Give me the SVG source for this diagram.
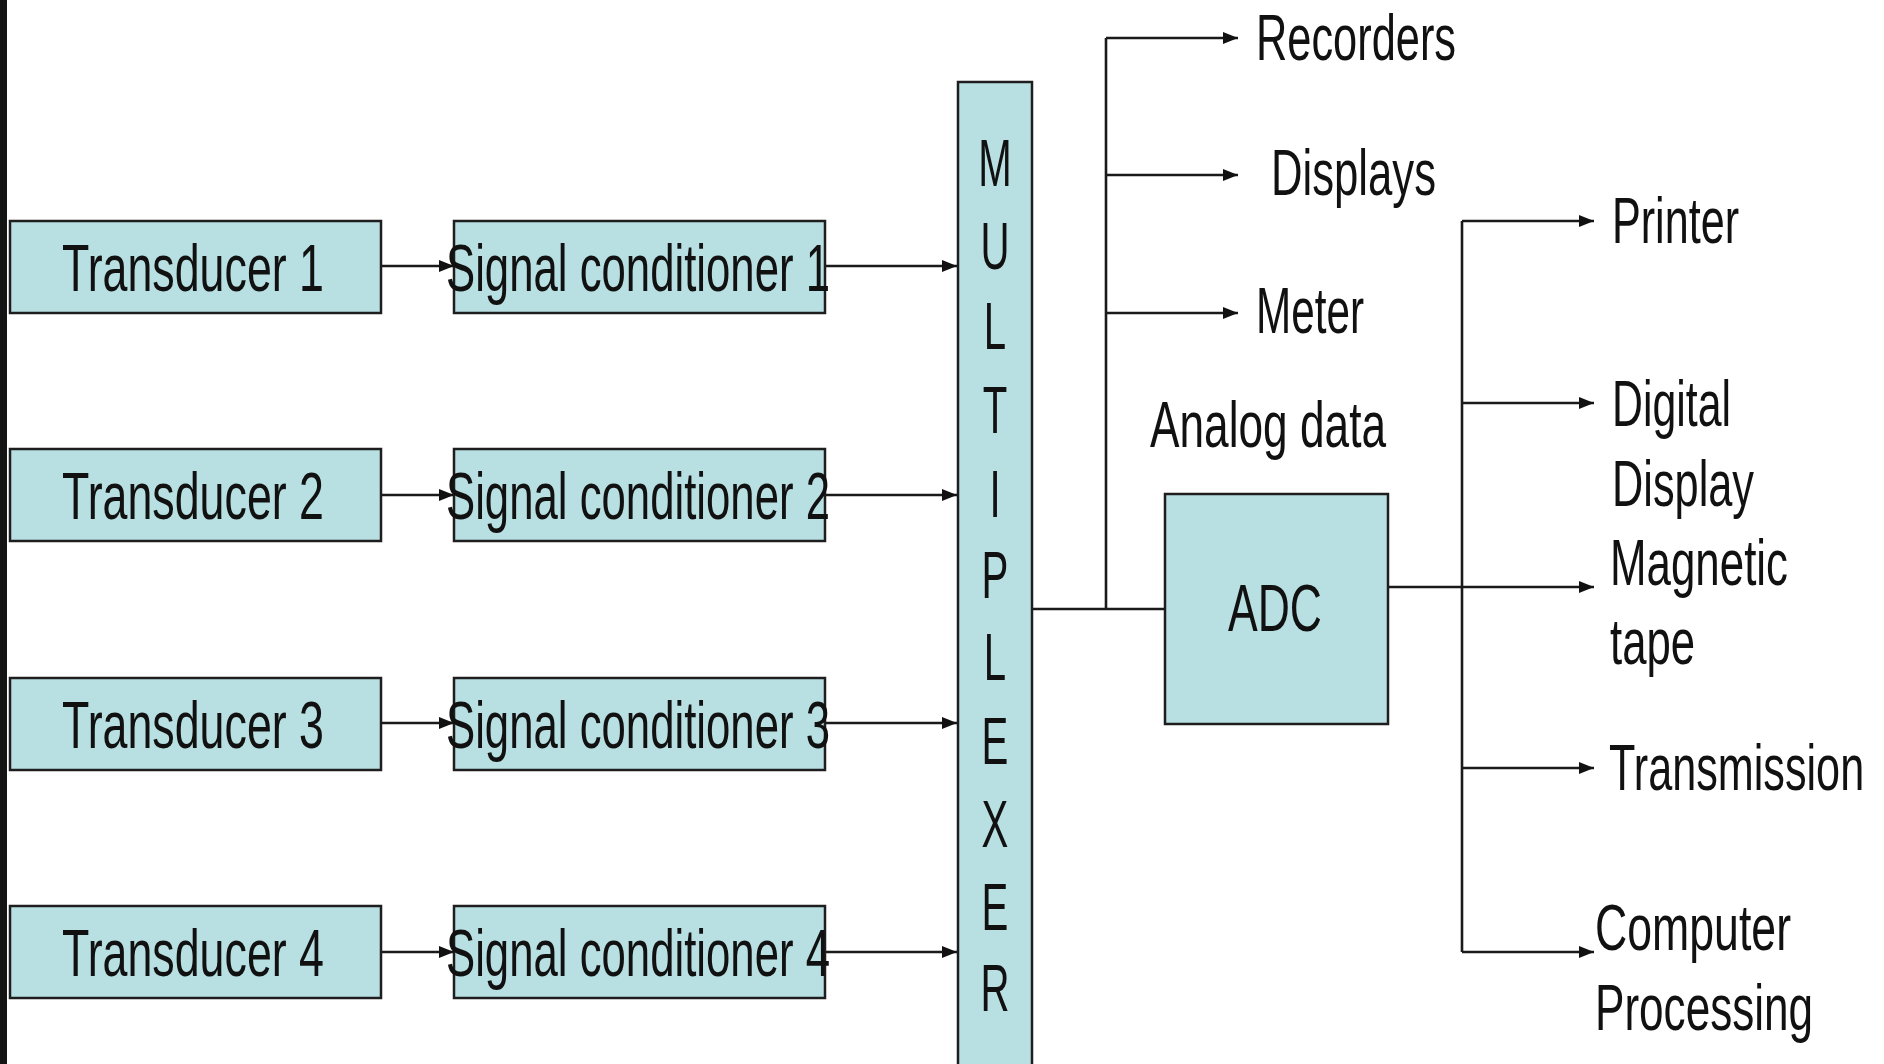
<svg xmlns="http://www.w3.org/2000/svg" width="1884" height="1064" viewBox="0 0 1884 1064">
<style>
  .box { fill: #b8dfe2; stroke: #1e1e1e; stroke-width: 2.5; }
  .t { font-family: "Liberation Sans", Arial, sans-serif; font-size: 67px; fill: #111; }
  .lbl { font-family: "Liberation Sans", Arial, sans-serif; font-size: 64px; fill: #111; }
  .mx { font-family: "Liberation Sans", Arial, sans-serif; font-size: 67px; fill: #111; text-anchor: middle; }
  .ln { fill: none; stroke: #1a1a1a; stroke-width: 2.6; }
  .ar { fill: none; stroke: #1a1a1a; stroke-width: 2.6; marker-end: url(#ah); }
</style>
<defs>
  <marker id="ah" markerUnits="userSpaceOnUse" markerWidth="16" markerHeight="14" refX="15" refY="7" orient="auto">
    <path d="M0,1 L15,7 L0,13 z" fill="#111"/>
  </marker>
</defs>
<rect x="0" y="0" width="1884" height="1064" fill="#ffffff"/>
<rect x="0" y="0" width="7" height="1064" fill="#141414"/>

<g id="connectors">
  <line class="ar" x1="381" y1="266" x2="454" y2="266"/>
  <line class="ar" x1="381" y1="495" x2="454" y2="495"/>
  <line class="ar" x1="381" y1="723" x2="454" y2="723"/>
  <line class="ar" x1="381" y1="952" x2="454" y2="952"/>
  <line class="ar" x1="825" y1="266" x2="957" y2="266"/>
  <line class="ar" x1="825" y1="495" x2="957" y2="495"/>
  <line class="ar" x1="825" y1="723" x2="957" y2="723"/>
  <line class="ar" x1="825" y1="952" x2="957" y2="952"/>
  <line class="ln" x1="1032" y1="609" x2="1165" y2="609"/>
  <line class="ln" x1="1106" y1="38" x2="1106" y2="609"/>
  <line class="ar" x1="1106" y1="38" x2="1238" y2="38"/>
  <line class="ar" x1="1106" y1="175" x2="1238" y2="175"/>
  <line class="ar" x1="1106" y1="313" x2="1238" y2="313"/>
  <line class="ln" x1="1462" y1="221" x2="1462" y2="952"/>
  <line class="ar" x1="1462" y1="221" x2="1594" y2="221"/>
  <line class="ar" x1="1462" y1="403" x2="1594" y2="403"/>
  <line class="ar" x1="1388" y1="587" x2="1594" y2="587"/>
  <line class="ar" x1="1462" y1="768" x2="1594" y2="768"/>
  <line class="ar" x1="1462" y1="952" x2="1594" y2="952"/>
</g>

<g id="transducer1"><rect class="box" x="10" y="221" width="371" height="92"/><text class="t" x="62" y="291" textLength="262" lengthAdjust="spacingAndGlyphs">Transducer 1</text></g>
<g id="transducer2"><rect class="box" x="10" y="449" width="371" height="92"/><text class="t" x="62" y="519" textLength="262" lengthAdjust="spacingAndGlyphs">Transducer 2</text></g>
<g id="transducer3"><rect class="box" x="10" y="678" width="371" height="92"/><text class="t" x="62" y="748" textLength="262" lengthAdjust="spacingAndGlyphs">Transducer 3</text></g>
<g id="transducer4"><rect class="box" x="10" y="906" width="371" height="92"/><text class="t" x="62" y="976" textLength="262" lengthAdjust="spacingAndGlyphs">Transducer 4</text></g>

<g id="conditioner1"><rect class="box" x="454" y="221" width="371" height="92"/><text class="t" x="446" y="291" textLength="384" lengthAdjust="spacingAndGlyphs">Signal conditioner 1</text></g>
<g id="conditioner2"><rect class="box" x="454" y="449" width="371" height="92"/><text class="t" x="446" y="519" textLength="384" lengthAdjust="spacingAndGlyphs">Signal conditioner 2</text></g>
<g id="conditioner3"><rect class="box" x="454" y="678" width="371" height="92"/><text class="t" x="446" y="748" textLength="384" lengthAdjust="spacingAndGlyphs">Signal conditioner 3</text></g>
<g id="conditioner4"><rect class="box" x="454" y="906" width="371" height="92"/><text class="t" x="446" y="976" textLength="384" lengthAdjust="spacingAndGlyphs">Signal conditioner 4</text></g>

<g id="multiplexer">
  <rect class="box" x="958" y="82" width="74" height="1000"/>
  <text class="mx" transform="translate(995,0) scale(0.6,1)"><tspan x="0" y="186">M</tspan><tspan x="0" y="269">U</tspan><tspan x="0" y="349">L</tspan><tspan x="0" y="433">T</tspan><tspan x="0" y="517">I</tspan><tspan x="0" y="598">P</tspan><tspan x="0" y="680">L</tspan><tspan x="0" y="764">E</tspan><tspan x="0" y="847">X</tspan><tspan x="0" y="930">E</tspan><tspan x="0" y="1011">R</tspan></text>
</g>

<g id="adc"><rect class="box" x="1165" y="494" width="223" height="230"/><text class="t" x="1228" y="631" textLength="94" lengthAdjust="spacingAndGlyphs">ADC</text></g>

<g id="recorders"><text class="lbl" x="1256" y="60" textLength="200" lengthAdjust="spacingAndGlyphs">Recorders</text></g>
<g id="displays"><text class="lbl" x="1271" y="195" textLength="165" lengthAdjust="spacingAndGlyphs">Displays</text></g>
<g id="meter"><text class="lbl" x="1256" y="333" textLength="108" lengthAdjust="spacingAndGlyphs">Meter</text></g>
<g id="analog-data"><text class="lbl" x="1150" y="447" textLength="236" lengthAdjust="spacingAndGlyphs">Analog data</text></g>

<g id="printer"><text class="lbl" x="1612" y="243" textLength="127" lengthAdjust="spacingAndGlyphs">Printer</text></g>
<g id="digital-display"><text class="lbl" x="1612" y="426" textLength="119" lengthAdjust="spacingAndGlyphs">Digital</text><text class="lbl" x="1612" y="506" textLength="142" lengthAdjust="spacingAndGlyphs">Display</text></g>
<g id="magnetic-tape"><text class="lbl" x="1610" y="585" textLength="178" lengthAdjust="spacingAndGlyphs">Magnetic</text><text class="lbl" x="1610" y="664" textLength="85" lengthAdjust="spacingAndGlyphs">tape</text></g>
<g id="transmission"><text class="lbl" transform="translate(1609,790) scale(0.675,1)" x="0" y="0">Transmission</text></g>
<g id="computer-processing"><text class="lbl" x="1595" y="950" textLength="196" lengthAdjust="spacingAndGlyphs">Computer</text><text class="lbl" transform="translate(1595,1030) scale(0.689,1)" x="0" y="0">Processing</text></g>
</svg>
